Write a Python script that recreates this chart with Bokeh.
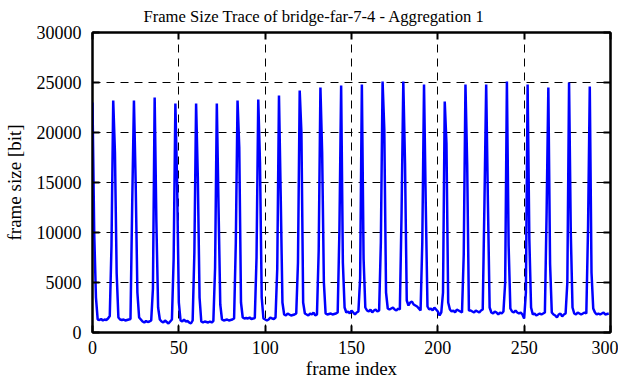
from bokeh.plotting import figure
from bokeh.models import Range1d, FixedTicker, LinearAxis, Title
from bokeh.embed import file_html
from bokeh.resources import INLINE

title_text = "Frame Size Trace of bridge-far-7-4 - Aggregation 1"
x_label = "frame index"
y_label = "frame size [bit]"
x_ticks = [0, 50, 100, 150, 200, 250, 300]
y_ticks = [0, 5000, 10000, 15000, 20000, 25000, 30000]

# frame sizes [bit], one row per 12-frame GOP (frames 0..299)
frame_size = [
    23000, 9900, 3500, 1300, 1250, 1350, 1200, 1300, 1250, 1400, 1650, 8700,
    23200, 18000, 5900, 1500, 1300, 1250, 1300, 1200, 1250, 1300, 1350, 12900,
    23200, 15000, 4000, 1500, 1300, 1100, 1000, 1150, 1050, 1100, 1200, 4400,
    23500, 11000, 2500, 1300, 1100, 1000, 1200, 1050, 900, 1100, 1300, 7400,
    22900, 15000, 3000, 1200, 1100, 1300, 1100, 1150, 1000, 900, 1200, 8000,
    22900, 15500, 3500, 1100, 1000, 1100, 1050, 1000, 1100, 1000, 1150, 6500,
    22900, 12500, 2800, 1300, 1200, 1250, 1300, 1200, 1250, 1300, 1400, 9000,
    23200, 18500, 3000, 1500, 1400, 1450, 1400, 1500, 1350, 1400, 1450, 7500,
    23300, 17000, 3500, 1400, 1300, 1200, 1300, 1500, 1400, 1350, 1500, 6400,
    23700, 13700, 3000, 1800, 1700, 1900, 1800, 1700, 1750, 1800, 1900, 7000,
    24200, 20000, 3000, 1900, 1800, 1700, 1900, 1800, 2000, 1700, 1800, 8200,
    24500, 18000, 5000, 1900, 1800, 1850, 1900, 1800, 1850, 1900, 2000, 10200,
    24700, 7000, 2500, 2000, 2100, 1900, 2200, 2000, 1800, 2000, 2100, 5400,
    24800, 7400, 2500, 2200, 2100, 2300, 2000, 2200, 2300, 2100, 2200, 9000,
    25100, 20300, 4000, 2400, 2300, 2400, 2500, 2300, 2200, 2400, 2300, 12000,
    25100, 16900, 3200, 2700, 3000, 3100, 2800, 2700, 2600, 2400, 2200, 9000,
    24800, 12900, 2600, 2300, 2400, 2200, 2500, 2300, 2100, 1700, 2000, 4000,
    23100, 18900, 3000, 2300, 2100, 2200, 2000, 2300, 2200, 2100, 2000, 7800,
    24800, 16800, 2200, 2200, 2100, 2000, 2200, 2100, 2000, 2200, 2300, 13000,
    24800, 13000, 2500, 2000, 1900, 2100, 2000, 1800, 2000, 1900, 2100, 5000,
    25100, 8700, 2400, 2100, 2000, 2200, 2000, 1900, 2000, 1800, 1400, 4000,
    24800, 9300, 2500, 1800, 1900, 1700, 1800, 1900, 1800, 1900, 2000, 12000,
    24500, 6900, 2000, 1800, 1700, 1500, 1800, 1900, 1600, 1800, 1900, 5000,
    25000, 10000, 2500, 1900, 1800, 2000, 1900, 1800, 1900, 2000, 1900, 10500,
    24600, 6000, 2400, 2000, 1800, 1900, 1800, 1900, 2000, 1800, 1850, 1900,
]
frame_index = list(range(len(frame_size)))

FONT = "Liberation Serif"
TICK_FS = "18px"
LABEL_FS = "19px"

p = figure(frame_width=518, frame_height=300, x_range=Range1d(0, 300), y_range=Range1d(0, 30000),
           output_backend="svg", toolbar_location=None,
           min_border_left=92, min_border_right=8, min_border_top=32, min_border_bottom=42,
           background_fill_color="white", border_fill_color="white",
           outline_line_color="black", outline_line_width=2)

p.line(frame_index, frame_size, line_color="#0000ff", line_width=2.5)


def style_axis(ax, ticks, labels=True):
    ax.ticker = FixedTicker(ticks=ticks)
    ax.major_tick_in = 7
    ax.major_tick_out = 0
    ax.minor_tick_line_color = None
    ax.axis_line_color = "black"
    ax.axis_line_width = 2
    ax.major_tick_line_color = "black"
    ax.major_tick_line_width = 2
    ax.major_label_text_font = FONT
    if labels:
        ax.major_label_text_font_size = TICK_FS
        ax.major_label_text_color = "black"
    else:
        ax.major_label_text_font_size = "1px"
        ax.major_label_text_color = None
        ax.major_label_standoff = 0


style_axis(p.xaxis[0], x_ticks)
style_axis(p.yaxis[0], y_ticks)
p.xaxis[0].major_label_standoff = 8
p.yaxis[0].major_label_standoff = 11
p.xaxis[0].axis_label = x_label
p.yaxis[0].axis_label = y_label
for ax in (p.xaxis[0], p.yaxis[0]):
    ax.axis_label_text_font = FONT
    ax.axis_label_text_font_size = LABEL_FS
    ax.axis_label_text_font_style = "normal"
    ax.axis_label_text_color = "black"
p.xaxis[0].axis_label_standoff = 1
p.yaxis[0].axis_label_standoff = 9

top_ax = LinearAxis()
style_axis(top_ax, x_ticks, labels=False)
p.add_layout(top_ax, "above")
right_ax = LinearAxis()
style_axis(right_ax, y_ticks, labels=False)
p.add_layout(right_ax, "right")

p.xgrid.ticker = FixedTicker(ticks=x_ticks[1:-1])
p.ygrid.ticker = FixedTicker(ticks=y_ticks[1:-1])
for g in (p.xgrid, p.ygrid):
    g.grid_line_color = "black"
    g.grid_line_dash = "8 6"
    g.grid_line_width = 1

t = Title(text=title_text, align="left", offset=51, text_font=FONT, text_font_size="16.6px",
          text_font_style="normal", text_color="black", standoff=10, vertical_align="top")
p.add_layout(t, "above")

open("out.html", "w").write(file_html(p, INLINE))
